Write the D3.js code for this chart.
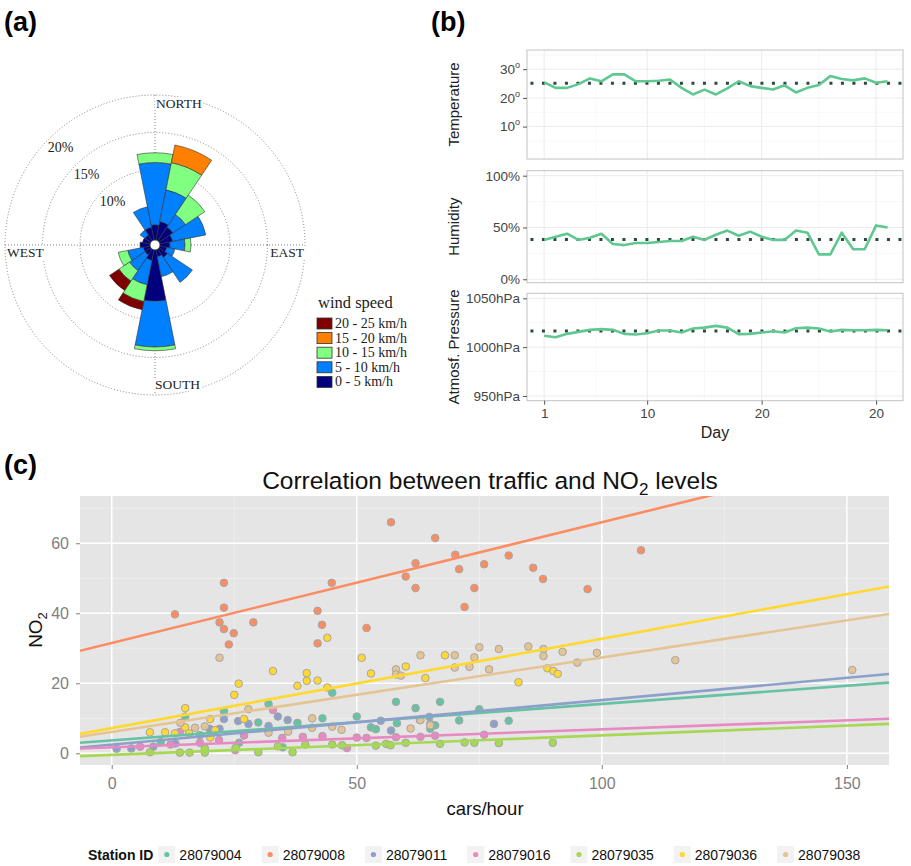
<!DOCTYPE html>
<html lang="en">
<head>
<meta charset="UTF-8">
<title>Wind, weather and NO2</title>
<script src="https://d3js.org/d3.v7.min.js"></script>
<style>
  body { margin: 0; background: #fff; }
  svg { display: block; font-family: "Liberation Sans", Arial, sans-serif; }
  .serif { font-family: "Liberation Serif", "DejaVu Serif", serif; }
</style>
</head>
<body>
<svg id="fig" width="911" height="866"></svg>
<script>
// ---------- (a) wind rose data (percent of time per direction and speed bin) ----------
const directions = ["N","NNE","NE","ENE","E","ESE","SE","SSE","S","SSW","SW","WSW","W","WNW","NW","NNW"];
const speedBins = ["0 - 5 km/h","5 - 10 km/h","10 - 15 km/h","15 - 20 km/h","20 - 25 km/h"];
const speedColors = ["#00007f","#0080ff","#80ff80","#ff8000","#800000"];
const rose0to5   = [2.7,3.2,2.9,2.4,2.0,1.6,2.0,1.6,7.5,2.1,1.6,1.6,2.0,1.7,1.6,2.4];
const rose5to10  = [8.3,4.3,2.0,4.5,2.0,1.1,4.0,2.7,6.1,3.3,2.5,2.1,0,0,0.8,2.8];
const rose10to15 = [1.3,3.7,3.1,0,0.8,0,0,0,0.5,2.3,1.7,1.3,0,0,0,0];
const rose15to20 = [0,2.4,0,0,0,0,0,0,0,0,0,0,0,0,0,0];
const rose20to25 = [0,0,0,0,0,0,0,0,0,1.1,1.5,0,0,0,0,0];
const rosePctTicks = [10, 15, 20];

// ---------- (b) daily weather ----------
const temperature = [25.4,23.5,23.5,24.8,26.8,25.8,28.2,28.2,25.8,25.8,26.0,26.4,23.5,21.2,22.9,21.2,
                     23.3,25.8,24.1,23.5,22.9,24.4,21.9,23.5,24.5,27.6,26.6,26.1,26.8,25.3,25.8];
const humidity = [38,41,44,38,40,44,34,33,35,35,36,37,37,41,38,43,47,42,46,41,38,38,47,45,24,24,45,29,29,52,50];
const pressure = [1011.6,1010.2,1013.6,1015.6,1017.7,1018.4,1017.7,1013.6,1012.9,1014.3,1017,1017,1015,1019,1020,1021.8,
                  1020,1013.3,1013.6,1015,1016.3,1015,1019.4,1020,1019,1016,1017.7,1017.3,1017.3,1017.7,1017.3];
const weatherMeans = [25.1, 38.5, 1016.5];
const dayTicks = [0, 9, 19, 29];
const dayTickLabels = ["1", "10", "20", "20"];
const tempTicks = [10, 20, 30];
const humidityTicks = [0, 50, 100];
const pressureTicks = [950, 1000, 1050];

// ---------- (c) traffic vs NO2, [cars/hour, NO2] ----------
const stationIds = ["28079004","28079008","28079011","28079016","28079035","28079036","28079038"];
const stationColors = ["#66c2a5","#fc8d62","#8da0cb","#e78ac3","#a6d854","#ffd92f","#e5c494"];
const st004 = [[10,3.2],[15,10.5],[18,5.2],[22.9,12.0],[26,3.0],[29.9,8.8],[32,14.1],[34.9,1.7],[37.9,8.7],[43,10],
               [45,17.3],[50,10.5],[52.9,7.4],[53.9,6.9],[58,14.7],[58.2,8.6],[62,12.9],[65,7.0],[66,8.0],[67,14.7],
               [70.9,9.4],[75,12.6],[81,9.3]];
const st008 = [[12.9,39.7],[22.9,48.7],[22.9,41.6],[22,37.4],[22.9,35.5],[24.9,34.3],[23.9,31.1],[28.9,37.4],
               [44.9,48.7],[42,40.7],[42.9,36.7],[42,31.4],[52,35.8],[57,66],[66,61.5],[60,50.5],[62,54.3],[62,47.2],
               [70.1,56.7],[70.9,52.6],[74,47.2],[72,41.8],[76,54],[81,56.5],[86,53],[88,49.8],[97.1,46.9],[108,58]];
const st011 = [[1,1.3],[4,1.4],[8.5,1.9],[13,2.8],[20,7.0],[22,7.0],[22.9,9.8],[25.8,9.2],[27.9,8.4],[32,7.8],
               [33.9,10.5],[35.9,9.5],[54.9,9.3],[57,6.5],[62.9,9.5],[64.8,10.4],[65,8.4],[78,8.4]];
const st016 = [[5.8,1.9],[12,2.5],[13.9,6.1],[18,3.0],[21.9,3.8],[25.2,0.9],[27,5.1],[32.9,12.4],[34.8,4.4],[39,4.7],
               [43,4.9],[48,1.5],[50,4.5],[52,4.4],[58,4.6],[63,4.7],[66,5.0],[76,5.3]];
const st035 = [[7.8,0.3],[13.9,0.2],[15.9,0.2],[19,0.2],[19,1.4],[25.3,1.6],[29.9,0.3],[33.9,2.0],[36.9,0.3],
               [39.5,2.5],[45,2.5],[47,2.3],[53.9,2.2],[56,2.7],[56.9,2.3],[60,3.0],[67,2.7],[72,3.1],[74,3.0],
               [79,2.9],[90,3.0]];
const st036 = [[7.8,6.0],[10.9,6.0],[12.9,5.7],[15,12.9],[15,7.4],[15.8,5.7],[20.1,9.8],[20.1,4.5],[21.1,6.6],
               [25,16.7],[25.9,19.9],[27,9.8],[32.9,23.5],[37.9,19.3],[39.8,22.9],[39.8,20.7],[42,20.8],[44,33],
               [44,18.8],[51,27.3],[52.9,22.8],[60,24.8],[64,21.5],[68,28],[83,20.3],[88.9,24.3],[90.1,23.5],[91,22.7]];
const st038 = [[14,8.7],[17,7.3],[19,7.7],[22,27.3],[27.9,12.6],[32,5.9],[36,6.2],[40.9,10],[40.9,7.3],[45,7.6],
               [46.9,6.7],[58,24],[58,22.5],[59,22.2],[61,7.1],[63,28],[63,9.5],[65,8.0],[70,28],[70,24.5],[73,24.7],
               [74,27.4],[75,30.3],[77,24],[79,29.8],[85,30.5],[88.1,29.8],[88.1,27.8],[92,29],[95,25.9],[99,28.7],
               [115,26.6],[151.1,23.8]];
const stationPoints = [st004, st008, st011, st016, st035, st036, st038];
// linear fits
const fitIntercept = [3.7, 31.5, 2.5, 1.7, -0.44, 7.2, 6.1];
const fitSlope = [0.104, 0.345, 0.127, 0.0515, 0.0557, 0.255, 0.2126];
const carTicks = [0, 50, 100, 150];
const no2Ticks = [0, 20, 40, 60];

const svg = d3.select("#fig");

// panel letters
[["(a)", 4, 31], ["(b)", 431, 31], ["(c)", 4, 474]].forEach(([t, x, y]) => {
  svg.append("text").attr("x", x).attr("y", y).attr("font-size", 27).attr("font-weight", "bold").text(t);
});

// =============== (a) WIND ROSE ===============
const roseCx = 155, roseCy = 245;
const rScale = d3.scaleLinear().domain([0, 20]).range([0, 150]);
const gRose = svg.append("g").attr("transform", `translate(${roseCx},${roseCy})`);

const roseRows = directions.map((d, i) => ({
  dir: d, i: i, b0: rose0to5[i], b1: rose5to10[i], b2: rose10to15[i], b3: rose15to20[i], b4: rose20to25[i]
}));
const roseKeys = ["b0", "b1", "b2", "b3", "b4"];
const roseStack = d3.stack().keys(roseKeys)(roseRows);
const step = 2 * Math.PI / directions.length;

// grid
rosePctTicks.forEach(p => {
  gRose.append("circle").attr("r", rScale(p)).attr("fill", "none")
    .attr("stroke", "#777").attr("stroke-width", 0.9).attr("stroke-dasharray", "1,2");
});
gRose.append("line").attr("x1", 0).attr("x2", 0).attr("y1", -rScale(20)).attr("y2", rScale(20))
  .attr("stroke", "#777").attr("stroke-width", 0.9).attr("stroke-dasharray", "1,2");
gRose.append("line").attr("y1", 0).attr("y2", 0).attr("x1", -rScale(20)).attr("x2", rScale(20))
  .attr("stroke", "#777").attr("stroke-width", 0.9).attr("stroke-dasharray", "1,2");

const arc = d3.arc()
  .innerRadius(d => rScale(d[0]))
  .outerRadius(d => rScale(d[1]))
  .startAngle(d => d.data.i * step - step / 2)
  .endAngle(d => d.data.i * step + step / 2);

roseStack.forEach((layer, k) => {
  gRose.append("g").selectAll("path")
    .data(layer.filter(d => d[1] - d[0] > 0))
    .join("path")
    .attr("d", arc)
    .attr("fill", speedColors[k])
    .attr("stroke", "#333").attr("stroke-width", 0.6);
});
gRose.append("circle").attr("r", 5).attr("fill", "#fff").attr("stroke", "#333").attr("stroke-width", 0.8);

// percent labels along the north-west diagonal
const labAng = -44 * Math.PI / 180;
rosePctTicks.forEach(p => {
  const rr = rScale(p) - 14;
  gRose.append("text").attr("class", "serif")
    .attr("x", rr * Math.sin(labAng)).attr("y", -rr * Math.cos(labAng) + 5)
    .attr("text-anchor", "middle").attr("font-size", 14).attr("fill", "#222").text(p + "%");
});

// compass labels with white background
const R = rScale(20);
const compass = [
  ["NORTH", 1, -R + 13, "start"],
  ["SOUTH", 0, R - 6, "start"],
  ["WEST", -R + 2, 12, "start"],
  ["EAST", R - 1, 12, "end"]
];
compass.forEach(([t, x, y, anchor]) => {
  const tx = gRose.append("text").attr("class", "serif")
    .attr("x", x).attr("y", y).attr("text-anchor", anchor)
    .attr("font-size", 13.5).attr("fill", "#222").text(t);
  const bb = tx.node().getBBox();
  gRose.insert("rect", () => tx.node())
    .attr("x", bb.x - 1).attr("y", bb.y + 1).attr("width", bb.width + 2).attr("height", bb.height - 2)
    .attr("fill", "#fff");
});

// wind legend
const gWL = svg.append("g").attr("class", "serif");
gWL.append("text").attr("x", 318).attr("y", 308).attr("font-size", 16.5).attr("fill", "#222").text("wind speed");
d3.range(speedBins.length).reverse().forEach((k, j) => {
  const y = 318 + j * 14.6;
  gWL.append("rect").attr("x", 317).attr("y", y).attr("width", 15).attr("height", 11)
    .attr("fill", speedColors[k]).attr("stroke", "#333").attr("stroke-width", 0.8);
  gWL.append("text").attr("x", 335).attr("y", y + 10).attr("font-size", 14).attr("fill", "#222").text(speedBins[k]);
});

// =============== (b) WEATHER FACETS ===============
const xB = d3.scaleLinear().domain([-1.5, 31.35]).range([527, 903]);
const facets = [
  { title: "Temperature", values: temperature, mean: weatherMeans[0], domain: [-1.3, 36.7], top: 50, bottom: 159,
    ticks: tempTicks, minor: [5, 15, 25, 35], fmt: "deg" },
  { title: "Humidity", values: humidity, mean: weatherMeans[1], domain: [-3.3, 104.8], top: 170.7, bottom: 282.7,
    ticks: humidityTicks, minor: [25, 75], fmt: "%" },
  { title: "Atmosf. Pressure", values: pressure, mean: weatherMeans[2], domain: [945.2, 1055.1], top: 293.3, bottom: 400.7,
    ticks: pressureTicks, minor: [975, 1025], fmt: "hPa" }
];
const dayMinor = [4.5, 14, 24];

facets.forEach(f => {
  const y = d3.scaleLinear().domain(f.domain).range([f.bottom, f.top]);
  const g = svg.append("g");
  g.append("rect").attr("x", 527).attr("y", f.top).attr("width", 903 - 527).attr("height", f.bottom - f.top)
    .attr("fill", "#fff");
  // grid
  f.minor.forEach(v => g.append("line").attr("x1", 527).attr("x2", 903).attr("y1", y(v)).attr("y2", y(v))
    .attr("stroke", "#f4f4f4").attr("stroke-width", 0.6));
  dayMinor.forEach(v => g.append("line").attr("x1", xB(v)).attr("x2", xB(v)).attr("y1", f.top).attr("y2", f.bottom)
    .attr("stroke", "#f4f4f4").attr("stroke-width", 0.6));
  f.ticks.forEach(v => g.append("line").attr("x1", 527).attr("x2", 903).attr("y1", y(v)).attr("y2", y(v))
    .attr("stroke", "#ebebeb").attr("stroke-width", 1));
  dayTicks.forEach(v => g.append("line").attr("x1", xB(v)).attr("x2", xB(v)).attr("y1", f.top).attr("y2", f.bottom)
    .attr("stroke", "#ebebeb").attr("stroke-width", 1));

  // mean (dotted) and series
  g.append("line").attr("x1", xB(-1.2)).attr("x2", 902).attr("y1", y(f.mean)).attr("y2", y(f.mean))
    .attr("stroke", "#2c4a3b").attr("stroke-width", 3).attr("stroke-dasharray", "3,8.5");
  g.append("path").datum(f.values)
    .attr("d", d3.line().x((d, i) => xB(i)).y(d => y(d)))
    .attr("fill", "none").attr("stroke", "#5ec890").attr("stroke-width", 2.6).attr("stroke-linejoin", "round");

  g.append("rect").attr("x", 527).attr("y", f.top).attr("width", 903 - 527).attr("height", f.bottom - f.top)
    .attr("fill", "none").attr("stroke", "#c2c2c2").attr("stroke-width", 1);

  // y axis
  const ya = g.append("g").attr("transform", "translate(527,0)")
    .call(d3.axisLeft(y).tickValues(f.ticks).tickSize(4).tickPadding(3).tickFormat(v => f.fmt === "deg" ? v : v + f.fmt));
  ya.select(".domain").remove();
  ya.selectAll(".tick line").attr("stroke", "#555");
  ya.selectAll(".tick text").attr("font-size", 13.5).attr("fill", "#444").attr("font-family", "Liberation Sans, Arial, sans-serif");
  if (f.fmt === "deg") {
    ya.selectAll(".tick text").each(function () {
      d3.select(this).append("tspan").attr("dy", -6).attr("font-size", 9).text("o");
    });
    ya.selectAll(".tick text").attr("dy", "0.32em");
  }
  g.append("text").attr("transform", `translate(459,${(f.top + f.bottom) / 2}) rotate(-90)`)
    .attr("text-anchor", "middle").attr("font-size", 15).attr("fill", "#222").text(f.title);
});

const xaB = svg.append("g").attr("transform", "translate(0,400.7)")
  .call(d3.axisBottom(xB).tickValues(dayTicks).tickSize(4).tickPadding(4).tickFormat((d, i) => dayTickLabels[i]));
xaB.select(".domain").remove();
xaB.selectAll(".tick line").attr("stroke", "#555");
xaB.selectAll(".tick text").attr("font-size", 13.5).attr("fill", "#444").attr("font-family", "Liberation Sans, Arial, sans-serif");
svg.append("text").attr("x", 715).attr("y", 438).attr("text-anchor", "middle").attr("font-size", 16).attr("fill", "#222").text("Day");

// =============== (c) SCATTER ===============
const px0 = 80, px1 = 889, py0 = 496, py1 = 765;
const xC = d3.scaleLinear().domain([-6.47, 158.6]).range([px0, px1]);
const yC = d3.scaleLinear().domain([-3.34, 73.5]).range([py1, py0]);

svg.append("text").attr("x", 490).attr("y", 489).attr("text-anchor", "middle").attr("font-size", 24.5).attr("fill", "#111")
  .call(t => {
    t.append("tspan").text("Correlation between traffic and NO");
    t.append("tspan").attr("font-size", 17).attr("dy", 6).text("2");
    t.append("tspan").attr("dy", -6).text(" levels");
  });

svg.append("defs").append("clipPath").attr("id", "clipC")
  .append("rect").attr("x", px0).attr("y", py0).attr("width", px1 - px0).attr("height", py1 - py0);

const gC = svg.append("g");
gC.append("rect").attr("x", px0).attr("y", py0).attr("width", px1 - px0).attr("height", py1 - py0).attr("fill", "#e5e5e5");
[10, 30, 50, 70].forEach(v => gC.append("line").attr("x1", px0).attr("x2", px1).attr("y1", yC(v)).attr("y2", yC(v))
  .attr("stroke", "#f2f2f2").attr("stroke-width", 0.7));
[25, 75, 125].forEach(v => gC.append("line").attr("x1", xC(v)).attr("x2", xC(v)).attr("y1", py0).attr("y2", py1)
  .attr("stroke", "#f2f2f2").attr("stroke-width", 0.7));
no2Ticks.forEach(v => gC.append("line").attr("x1", px0).attr("x2", px1).attr("y1", yC(v)).attr("y2", yC(v))
  .attr("stroke", "#fff").attr("stroke-width", 1.5));
carTicks.forEach(v => gC.append("line").attr("x1", xC(v)).attr("x2", xC(v)).attr("y1", py0).attr("y2", py1)
  .attr("stroke", "#fff").attr("stroke-width", 1.5));

const gPts = gC.append("g").attr("clip-path", "url(#clipC)");
stationPoints.forEach((pts, s) => {
  gPts.append("g").selectAll("circle").data(pts).join("circle")
    .attr("cx", d => xC(d[0])).attr("cy", d => yC(d[1])).attr("r", 3.8)
    .attr("fill", stationColors[s]).attr("stroke", "#a6a6a6").attr("stroke-width", 1);
});
const xDom = xC.domain();
stationIds.forEach((id, s) => {
  gPts.append("line")
    .attr("x1", xC(xDom[0])).attr("y1", yC(fitIntercept[s] + fitSlope[s] * xDom[0]))
    .attr("x2", xC(xDom[1])).attr("y2", yC(fitIntercept[s] + fitSlope[s] * xDom[1]))
    .attr("stroke", stationColors[s]).attr("stroke-width", 2.6);
});

const yaC = svg.append("g").attr("transform", `translate(${px0},0)`)
  .call(d3.axisLeft(yC).tickValues(no2Ticks).tickSize(4).tickPadding(7));
yaC.select(".domain").remove();
yaC.selectAll(".tick line").attr("stroke", "#7f7f7f");
yaC.selectAll(".tick text").attr("font-size", 16).attr("fill", "#7f7f7f").attr("font-family", "Liberation Sans, Arial, sans-serif");
const xaC = svg.append("g").attr("transform", `translate(0,${py1})`)
  .call(d3.axisBottom(xC).tickValues(carTicks).tickSize(4).tickPadding(9));
xaC.select(".domain").remove();
xaC.selectAll(".tick line").attr("stroke", "#7f7f7f");
xaC.selectAll(".tick text").attr("font-size", 16).attr("fill", "#7f7f7f").attr("font-family", "Liberation Sans, Arial, sans-serif");

svg.append("text").attr("x", 485).attr("y", 815).attr("text-anchor", "middle").attr("font-size", 18.5).attr("fill", "#111")
  .text("cars/hour");
svg.append("text").attr("transform", "translate(42,630) rotate(-90)").attr("text-anchor", "middle")
  .attr("font-size", 19).attr("fill", "#111")
  .call(t => {
    t.append("tspan").text("NO");
    t.append("tspan").attr("font-size", 13).attr("dy", 5).text("2");
  });

// station legend
const gL = svg.append("g");
const legTitle = gL.append("text").attr("x", 88).attr("y", 860).attr("font-size", 14).attr("font-weight", "bold")
  .attr("fill", "#111").text("Station ID");
let lx = 88 + legTitle.node().getComputedTextLength() + 5;
stationIds.forEach((id, s) => {
  gL.append("rect").attr("x", lx).attr("y", 846).attr("width", 17).attr("height", 17).attr("fill", "#f2f2f2");
  gL.append("circle").attr("cx", lx + 8.5).attr("cy", 854.5).attr("r", 2.6).attr("fill", stationColors[s]);
  const t = gL.append("text").attr("x", lx + 21).attr("y", 860).attr("font-size", 14).attr("fill", "#111").text(id);
  lx += 21 + t.node().getComputedTextLength() + 20;
});
</script>
</body>
</html>
